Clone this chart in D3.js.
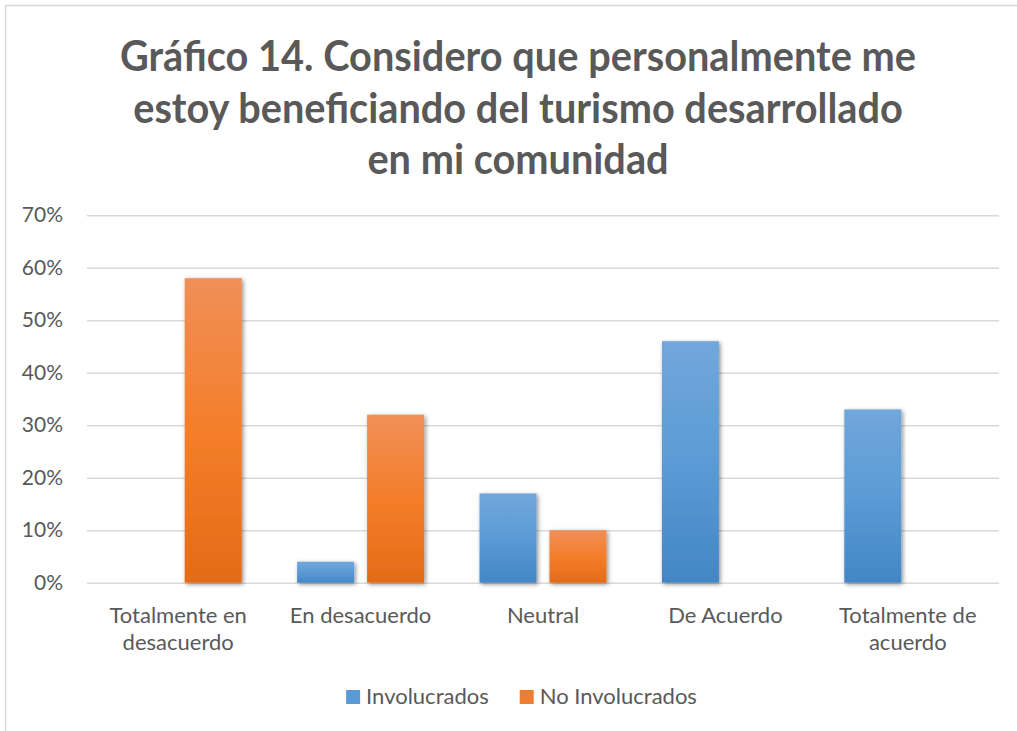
<!DOCTYPE html>
<html><head><meta charset="utf-8">
<script src="https://cdn.jsdelivr.net/npm/d3@7"></script>
<style>body{margin:0;background:#fff} svg{display:block}</style>
</head><body><svg id="c" width="1017" height="731"></svg>
<script>
const categories = ["Totalmente en desacuerdo", "En desacuerdo", "Neutral", "De Acuerdo", "Totalmente de acuerdo"];
const seriesNames = ["Involucrados", "No Involucrados"];
const involucrados = [0, 0.04, 0.17, 0.46, 0.33];
const noInvolucrados = [0.58, 0.32, 0.10, 0, 0];
const yTicks = [0, 0.1, 0.2, 0.3, 0.4, 0.5, 0.6, 0.7];
const titleLines = ["Gráfico 14. Considero que personalmente me", "estoy beneficiando del turismo desarrollado", "en mi comunidad"];

const seriesValues = [involucrados, noInvolucrados];
const font = "Lato, 'Open Sans', sans-serif";
const textColor = "#595959";
const svg = d3.select("#c");

const defs = svg.append("defs");
const grads = [
  {id: "gBlue", stops: ["#71a7dc", "#5b9bd5", "#4386c6"]},
  {id: "gOrange", stops: ["#f08f58", "#f47e2a", "#e36b17"]}
];
grads.forEach(g => {
  const lg = defs.append("linearGradient").attr("id", g.id).attr("x1", 0).attr("y1", 0).attr("x2", 0).attr("y2", 1);
  lg.append("stop").attr("offset", "0%").attr("stop-color", g.stops[0]);
  lg.append("stop").attr("offset", "50%").attr("stop-color", g.stops[1]);
  lg.append("stop").attr("offset", "100%").attr("stop-color", g.stops[2]);
});
const f = defs.append("filter").attr("id", "shadow").attr("x", "-30%").attr("y", "-30%").attr("width", "160%").attr("height", "160%");
f.append("feDropShadow").attr("dx", 1.5).attr("dy", 1.5).attr("stdDeviation", 2.2).attr("flood-color", "#000").attr("flood-opacity", 0.45);

// chart frame
svg.append("rect").attr("x", 5.5).attr("y", 5.5).attr("width", 1100).attr("height", 1100)
  .attr("fill", "none").attr("stroke", "#d9d9d9").attr("stroke-width", 1.5);

// title
const title = svg.append("g").attr("font-family", font).attr("font-weight", "bold").attr("fill", textColor).attr("text-anchor", "middle");
const probe = title.append("text").attr("font-size", 100).text(titleLines[0]);
const w100 = probe.node().getComputedTextLength();
probe.remove();
const titleSize = 100 * 796 / w100;
titleLines.forEach((t, i) => {
  title.append("text").attr("x", 518).attr("y", 71 + i * 51.5).attr("font-size", titleSize * 1.08)
    .attr("textLength", i === 0 ? 796 : null).attr("lengthAdjust", "spacingAndGlyphs").text(t);
});
// keep other lines proportionally condensed like line 1
title.selectAll("text").each(function(d, i) {
  if (i > 0) {
    const el = d3.select(this);
    const w = this.getComputedTextLength();
    el.attr("textLength", w / 1.08).attr("lengthAdjust", "spacingAndGlyphs");
  }
});

const x0 = d3.scaleBand().domain(categories).range([87, 999]).paddingInner(0.304).paddingOuter(0.152);
const x1 = d3.scaleBand().domain(seriesNames).range([0, x0.bandwidth()]).paddingInner(0.186).paddingOuter(0);
const y = d3.scaleLinear().domain([0, 0.7]).range([582.7, 215.2]);

// gridlines
const yAxis = d3.axisLeft(y).tickValues(yTicks).tickSize(-(999 - 87)).tickFormat(d3.format(".0%")).tickPadding(24);
const ga = svg.append("g").attr("transform", "translate(87,0)").call(yAxis);
ga.select(".domain").remove();
ga.selectAll(".tick line").attr("stroke", "#d9d9d9").attr("stroke-width", 1.5);
ga.selectAll(".tick text").attr("font-family", font).attr("font-size", 21).attr("fill", textColor);

// bars
const fills = {"Involucrados": "url(#gBlue)", "No Involucrados": "url(#gOrange)"};
const groups = svg.append("g").selectAll("g").data(categories).join("g")
  .attr("transform", d => `translate(${x0(d)},0)`);
groups.selectAll("rect")
  .data((c, ci) => seriesNames.map((s, si) => ({s, v: seriesValues[si][ci]})).filter(d => d.v > 0))
  .join("rect")
  .attr("x", d => x1(d.s)).attr("width", x1.bandwidth())
  .attr("y", d => y(d.v)).attr("height", d => y(0) - y(d.v))
  .attr("fill", d => fills[d.s]).attr("filter", "url(#shadow)");

// x labels
const xl = svg.append("g").attr("font-family", font).attr("font-size", 22).attr("fill", textColor).attr("text-anchor", "middle");
const maxW = 175;
categories.forEach(c => {
  const words = c.split(" ");
  const lines = [];
  let cur = "";
  const tmp = xl.append("text");
  words.forEach(w => {
    const test = cur ? cur + " " + w : w;
    tmp.text(test);
    if (tmp.node().getComputedTextLength() > maxW && cur) { lines.push(cur); cur = w; } else cur = test;
  });
  lines.push(cur);
  tmp.remove();
  const t = xl.append("text").attr("x", x0(c) + x0.bandwidth() / 2).attr("y", 623);
  lines.forEach((l, i) => t.append("tspan").attr("x", x0(c) + x0.bandwidth() / 2).attr("dy", i ? 27 : 0).text(l));
});

// legend
const legend = svg.append("g").attr("font-family", font).attr("font-size", 22).attr("fill", textColor);
const items = seriesNames.map((s, i) => {
  const g = legend.append("g");
  g.append("rect").attr("width", 14).attr("height", 14).attr("y", -14).attr("fill", i === 0 ? "#5b9bd5" : "#ed7d31");
  const t = g.append("text").attr("x", 20).attr("y", 0).text(s);
  return {g, w: 20 + t.node().getComputedTextLength()};
});
const gap = 31;
const total = items.reduce((a, b) => a + b.w, 0) + gap;
let cx = 521.5 - total / 2;
items.forEach(it => { it.g.attr("transform", `translate(${cx},704)`); cx += it.w + gap; });
</script></body></html>
